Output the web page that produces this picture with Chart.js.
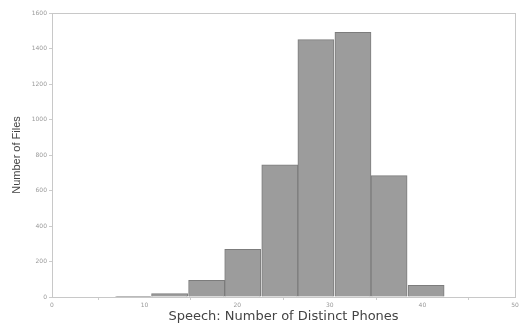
<!DOCTYPE html>
<html>
<head>
<meta charset="utf-8">
<script src="https://cdn.jsdelivr.net/npm/chart.js@4/dist/chart.umd.min.js"></script>
<style>
  html, body { margin: 0; padding: 0; background: #fff; }
  #wrap { width: 524px; height: 324px; }
</style>
</head>
<body>
<div id="wrap"><canvas id="hist"></canvas></div>
<script>
// histogram bins (centre of each bin) and counts
const binCenters = [8.8, 12.7, 16.7, 20.6, 24.6, 28.5, 32.5, 36.4, 40.4];
const fileCounts = [4, 19, 94, 268, 744, 1450, 1491, 684, 66];
const xTicks = [0, 10, 20, 30, 40, 50];
const yTicks = [0, 200, 400, 600, 800, 1000, 1200, 1400, 1600];

// frame around the plot area (top + right sides too)
const frame = {
  id: "frame",
  afterDatasetsDraw(chart) {
    const a = chart.chartArea;
    const ctx = chart.ctx;
    ctx.save();
    ctx.strokeStyle = "#c8c8c8";
    ctx.lineWidth = 1;
    ctx.strokeRect(Math.round(a.left) + 0.5, Math.round(a.top) + 0.5,
      Math.round(a.right - a.left), Math.round(a.bottom - a.top));
    ctx.restore();
  }
};

new Chart(document.getElementById("hist").getContext("2d"), {
  type: "bar",
  data: {
    datasets: [{
      label: "Files",
      data: binCenters.map((c, i) => ({ x: c, y: fileCounts[i] })),
      backgroundColor: "#9c9c9c",
      borderColor: "#7c7c7c",
      borderWidth: 1,
      barPercentage: 1,
      categoryPercentage: 1
    }]
  },
  options: {
    responsive: true,
    maintainAspectRatio: false,
    animation: false,
    layout: { padding: { left: 0, top: 13, right: 9, bottom: 0 } },
    plugins: { legend: { display: false }, tooltip: { enabled: false } },
    scales: {
      x: {
        type: "linear",
        min: 0,
        max: 50,
        offset: false,
        afterBuildTicks: s => { s.ticks = xTicks.map(v => ({ value: v })); },
        afterFit: s => { s.height = 27; },
        ticks: { color: "#999", font: { family: "DejaVu Sans", size: 6 }, padding: 2, maxRotation: 0,
          callback: v => String(v) },
        grid: { drawOnChartArea: false, tickLength: 3, color: "#ccc" },
        border: { color: "#c8c8c8" },
        title: {
          display: true,
          text: "Speech: Number of Distinct Phones",
          color: "#444",
          font: { family: "DejaVu Sans", size: 13 },
          padding: { top: 0, bottom: 0 }
        }
      },
      y: {
        min: 0,
        max: 1600,
        afterBuildTicks: s => { s.ticks = yTicks.map(v => ({ value: v })); },
        afterFit: s => { s.width = 52; },
        ticks: { color: "#999", font: { family: "DejaVu Sans", size: 6 }, padding: 2,
          callback: v => String(v) },
        grid: { drawOnChartArea: false, tickLength: 3, color: "#ccc" },
        border: { color: "#c8c8c8" },
        title: {
          display: true,
          text: "Number of Files",
          color: "#444",
          font: { family: "Liberation Sans", size: 11 },
          padding: { top: 10, bottom: 0 }
        }
      }
    }
  },
  plugins: [frame]
});
</script>
</body>
</html>
